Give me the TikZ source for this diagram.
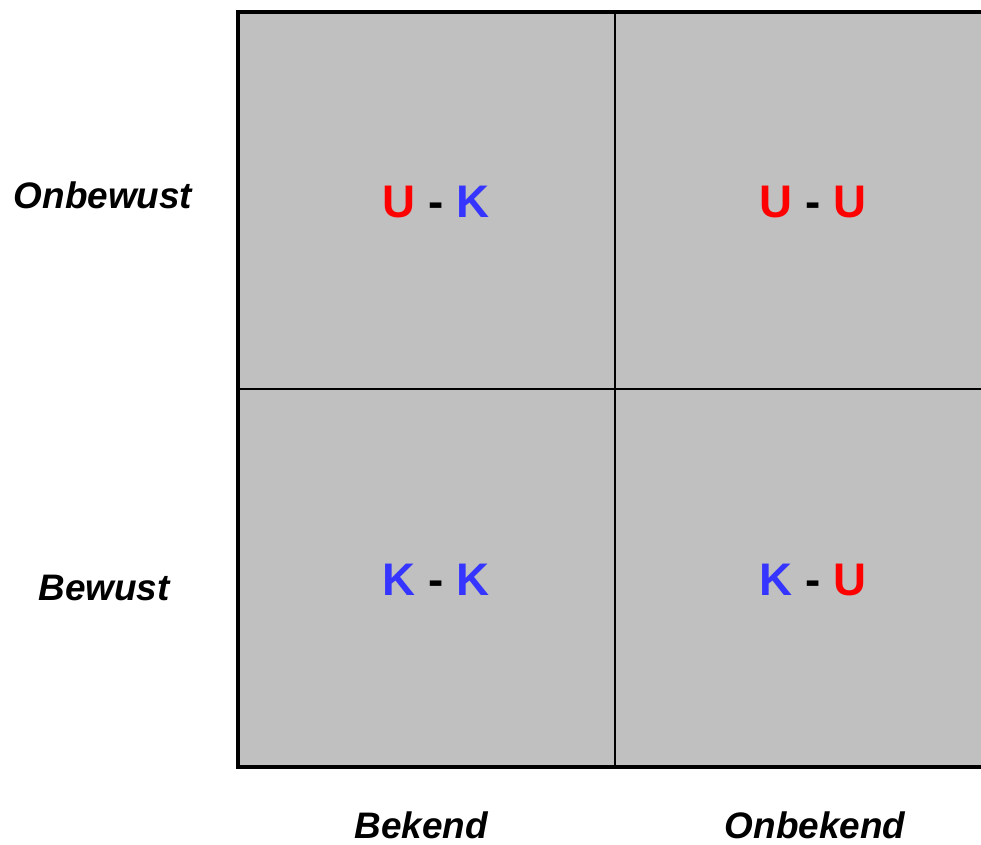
\documentclass[tikz,border=0pt]{standalone}
\usepackage{fontspec}
\setmainfont{Liberation Sans}
\definecolor{kred}{HTML}{FF0000}
\definecolor{kblue}{HTML}{3535FF}
\definecolor{kgray}{HTML}{C0C0C0}
\tikzset{
  cellt/.style={font=\fontsize{26}{30}\selectfont\bfseries,inner sep=0pt},
  axlab/.style={font=\fontsize{21}{25}\selectfont\bfseries\itshape,inner sep=0pt}
}
\newcommand{\kU}{\textcolor{kred}{U}}
\newcommand{\kK}{\textcolor{kblue}{K}}
\begin{document}
\begin{tikzpicture}[x=0.02cm,y=-0.02cm]
\useasboundingbox (0,0) rectangle (981,845);
\clip (0,0) rectangle (981,845);
\pgfmathsetmacro{\kxl}{238}
\pgfmathsetmacro{\kxm}{615}
\pgfmathsetmacro{\kxr}{1000}
\pgfmathsetmacro{\kyt}{12}
\pgfmathsetmacro{\kym}{389}
\pgfmathsetmacro{\kyb}{767}
% grid
\fill[kgray](\kxl,\kyt) rectangle (\kxr,\kyb);
\draw[line width=1.1pt](\kxm,\kyt)--(\kxm,\kyb);
\draw[line width=1.1pt](\kxl,\kym)--(\kxr,\kym);
\draw[line width=2.7pt](\kxr,\kyt)--(\kxl,\kyt)--(\kxl,\kyb)--(\kxr,\kyb);
% cells
\foreach \kx/\ky/\ca/\cb/\nm in {436/202/\kU/\kK/uk,813/202/\kU/\kU/uu,436/580/\kK/\kK/kk,813/580/\kK/\kU/ku}{
  \node[cellt](\nm) at (\kx,\ky){\ca\ -\ \cb};}
% labels
\foreach \kx/\ky/\lb/\nm in {103/195/Onbewust/onbw,104/588/Bewust/bw,421/825/Bekend/bk,815/825/Onbekend/onbk}{
  \node[axlab](\nm) at (\kx,\ky){\lb};}
\end{tikzpicture}
\end{document}
